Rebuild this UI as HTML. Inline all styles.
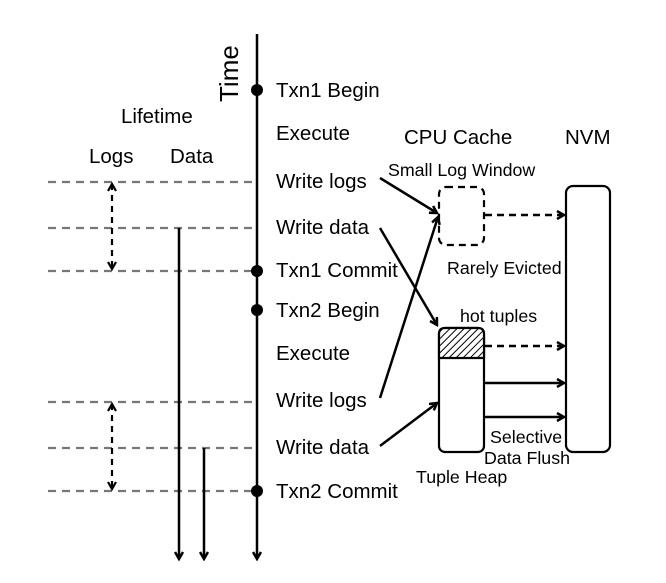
<!DOCTYPE html>
<html><head><meta charset="utf-8"><style>
html,body{margin:0;padding:0;background:#fff;}
svg{display:block;}
text{font-family:"Liberation Sans",Arial,sans-serif;fill:#000;}
</style></head><body>
<svg width="666" height="583" viewBox="0 0 666 583" xmlns="http://www.w3.org/2000/svg">
<defs>
<marker id="ah" markerWidth="10" markerHeight="10" refX="8" refY="5" orient="auto" markerUnits="userSpaceOnUse">
<path d="M1,1 L8,5 L1,9" fill="none" stroke="#000" stroke-width="2.5"/>
</marker>
<marker id="ahs" markerWidth="10" markerHeight="10" refX="8" refY="5" orient="auto-start-reverse" markerUnits="userSpaceOnUse">
<path d="M1,1 L8,5 L1,9" fill="none" stroke="#000" stroke-width="2.2"/>
</marker>
<pattern id="hatch" width="5" height="5" patternUnits="userSpaceOnUse" patternTransform="rotate(45)">
<rect width="5" height="5" fill="#fff"/>
<line x1="0" y1="0" x2="0" y2="5" stroke="#000" stroke-width="2"/>
</pattern>
</defs>
<g stroke="#777" stroke-width="2.2" stroke-dasharray="8,6">
<line x1="48" y1="182" x2="257" y2="182"/>
<line x1="48" y1="228" x2="257" y2="228"/>
<line x1="48" y1="271" x2="257" y2="271"/>
<line x1="48" y1="402" x2="257" y2="402"/>
<line x1="48" y1="448" x2="257" y2="448"/>
<line x1="48" y1="491" x2="257" y2="491"/>
</g>
<g stroke="#000" stroke-width="2.2" stroke-dasharray="6,5" fill="none">
<line x1="112" y1="184" x2="112" y2="269" marker-start="url(#ahs)" marker-end="url(#ahs)"/>
<line x1="112" y1="404" x2="112" y2="489" marker-start="url(#ahs)" marker-end="url(#ahs)"/>
</g>
<g stroke="#000" stroke-width="2.5">
<line x1="179" y1="228" x2="179" y2="559" marker-end="url(#ah)"/>
<line x1="204" y1="448" x2="204" y2="559" marker-end="url(#ah)"/>
<line x1="257" y1="34" x2="257" y2="559" marker-end="url(#ah)"/>
</g>
<g fill="#000">
<circle cx="257" cy="90" r="6"/>
<circle cx="257" cy="271" r="6"/>
<circle cx="257" cy="310" r="6"/>
<circle cx="257" cy="491" r="6"/>
</g>
<text transform="translate(238,102) rotate(-90)" font-size="26">Time</text>
<g font-size="20.5">
<text x="276" y="97">Txn1 Begin</text>
<text x="276" y="140">Execute</text>
<text x="276" y="188">Write logs</text>
<text x="276" y="234">Write data</text>
<text x="276" y="277">Txn1 Commit</text>
<text x="276" y="317">Txn2 Begin</text>
<text x="276" y="360">Execute</text>
<text x="276" y="407">Write logs</text>
<text x="276" y="454">Write data</text>
<text x="276" y="498">Txn2 Commit</text>
<text x="121" y="123">Lifetime</text>
<text x="89" y="163">Logs</text>
<text x="170" y="163">Data</text>
<text x="404" y="144">CPU Cache</text>
<text x="565" y="144">NVM</text>
</g>
<g font-size="17.8">
<text x="388" y="176">Small Log Window</text>
<text x="447" y="274">Rarely Evicted</text>
<text x="460" y="322">hot tuples</text>
<text x="490" y="443">Selective</text>
<text x="484" y="464">Data Flush</text>
<text x="416" y="483">Tuple Heap</text>
</g>
<rect x="439" y="187" width="45" height="58" rx="7" fill="none" stroke="#000" stroke-width="2.2" stroke-dasharray="7,5"/>
<rect x="566" y="186" width="44" height="266" rx="7" fill="none" stroke="#000" stroke-width="2.2"/>
<rect x="439" y="328" width="45" height="124" rx="6" fill="#fff" stroke="#000" stroke-width="2.2"/>
<path d="M439,358 L439,334 Q439,328 445,328 L478,328 Q484,328 484,334 L484,358 Z" fill="url(#hatch)" stroke="#000" stroke-width="2.2"/>
<g stroke="#000" stroke-width="2.5" fill="none">
<line x1="485" y1="215" x2="564" y2="215" stroke-dasharray="7,5" marker-end="url(#ah)"/>
<line x1="485" y1="346" x2="564" y2="346" stroke-dasharray="7,5" marker-end="url(#ah)"/>
<line x1="485" y1="383" x2="564" y2="383" marker-end="url(#ah)"/>
<line x1="485" y1="417" x2="564" y2="417" marker-end="url(#ah)"/>
<line x1="380" y1="178" x2="437" y2="213" marker-end="url(#ah)"/>
<line x1="380" y1="228" x2="437" y2="325" marker-end="url(#ah)"/>
<line x1="380" y1="398" x2="438" y2="217" marker-end="url(#ah)"/>
<line x1="380" y1="446" x2="437" y2="403" marker-end="url(#ah)"/>
</g>
</svg>
</body></html>
